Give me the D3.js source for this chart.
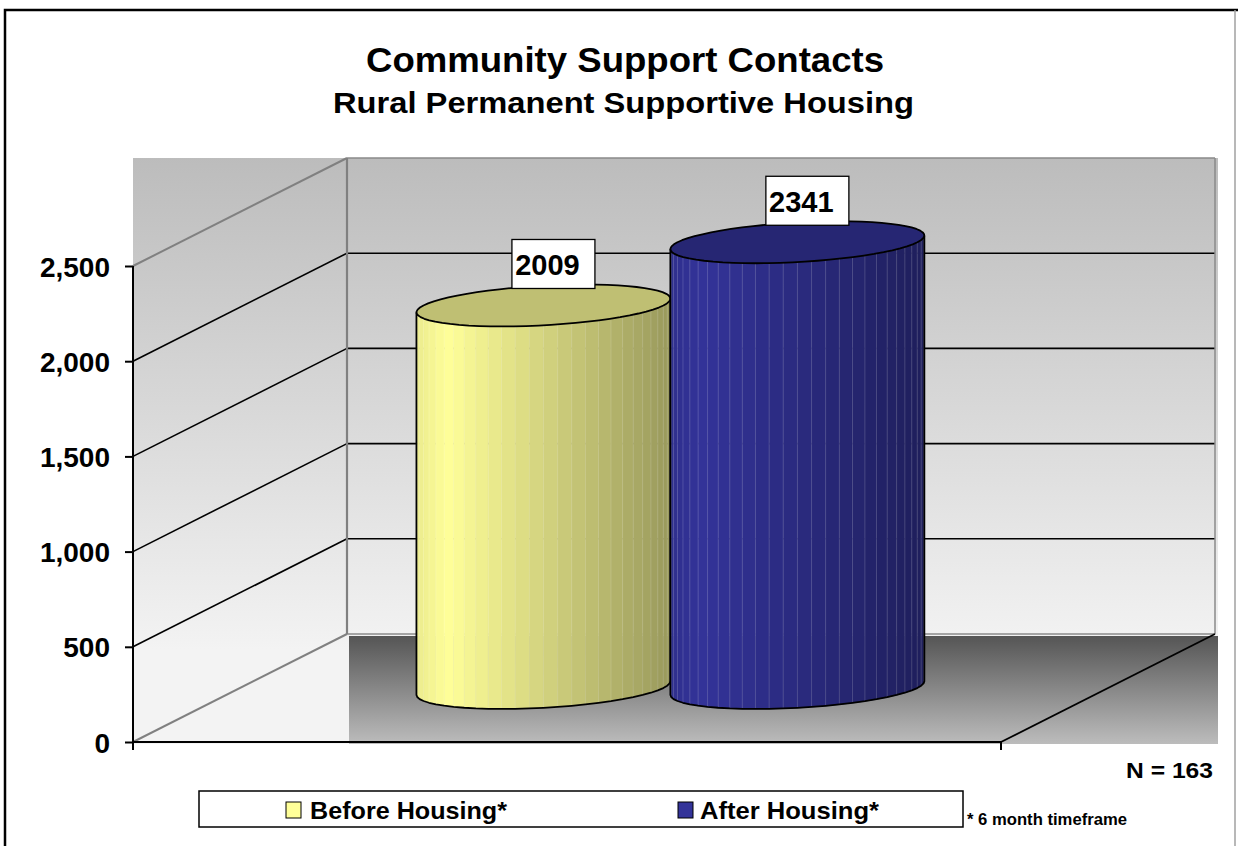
<!DOCTYPE html>
<html><head><meta charset="utf-8">
<script src="https://cdn.jsdelivr.net/npm/d3@7"></script>
<style>
body{margin:0;background:#fff}
svg{display:block}
text{font-family:Arial,"Liberation Sans",sans-serif;font-weight:bold;fill:#000}
</style>
</head><body>
<svg id="chart" width="1238" height="846"></svg>
<script>
// ---------- data ----------
const categories = ["Community Support Contacts"];
const seriesNames = ["Before Housing*", "After Housing*"];
const seriesValues = [2009, 2341];
const seriesColors = ["#ffff99", "#333399"];
const yTicks = [0, 500, 1000, 1500, 2000, 2500];
const titleText = "Community Support Contacts";
const subtitleText = "Rural Permanent Supportive Housing";
const noteN = "N = 163";
const noteFoot = "* 6 month timeframe";

// ---------- layout ----------
const svg = d3.select("#chart");
const defs = svg.append("defs");
const front = {left: 133, right: 1001, bottom: 742, top: 266};
const depth = {dx: 214, dy: -108};
const y = d3.scaleLinear().domain([0, 2500]).range([front.bottom, front.top]);
const xCat = d3.scaleBand().domain(categories).range([front.left, front.right]);
const xSer = d3.scaleBand().domain(seriesNames)
  .range([xCat(categories[0]), xCat(categories[0]) + xCat.bandwidth()])
  .paddingInner(0).paddingOuter(0.709).align(0.49);

// outer frame
svg.append("path").attr("d", "M5,846 L5,10 L1238,10").attr("fill", "none")
  .attr("stroke", "#000").attr("stroke-width", 2.5);
svg.append("line").attr("x1", 1235).attr("x2", 1235).attr("y1", 10).attr("y2", 846)
  .attr("stroke", "#a0a0a0").attr("stroke-width", 1.5);

// titles
svg.append("text").attr("x", 366).attr("y", 72).attr("font-size", 35)
  .attr("textLength", 518).attr("lengthAdjust", "spacingAndGlyphs").text(titleText);
svg.append("text").attr("x", 333).attr("y", 113).attr("font-size", 29)
  .attr("textLength", 581).attr("lengthAdjust", "spacingAndGlyphs").text(subtitleText);

// gradients
const gWall = defs.append("linearGradient").attr("id", "gWall")
  .attr("gradientUnits", "userSpaceOnUse").attr("x1", 0).attr("x2", 0).attr("y1", 157).attr("y2", 650);
gWall.append("stop").attr("offset", 0).attr("stop-color", "#bcbcbc");
gWall.append("stop").attr("offset", 1).attr("stop-color", "#f3f3f3");
const gFloor = defs.append("linearGradient").attr("id", "gFloor")
  .attr("gradientUnits", "userSpaceOnUse").attr("x1", 0).attr("x2", 0).attr("y1", 636).attr("y2", 744);
gFloor.append("stop").attr("offset", 0).attr("stop-color", "#555555");
gFloor.append("stop").attr("offset", 1).attr("stop-color", "#bcbcbc");

const backL = front.left + depth.dx, backR = front.right + depth.dx;
const yTop = y(2500) + depth.dy, yBackBottom = y(0) + depth.dy;

// wall background
svg.append("rect").attr("x", front.left).attr("y", yTop)
  .attr("width", backR + 3 - front.left).attr("height", front.bottom + 2 - yTop)
  .attr("fill", "url(#gWall)");
// floor
svg.append("rect").attr("x", backL + 2).attr("y", yBackBottom + 2)
  .attr("width", backR + 3 - backL - 2).attr("height", front.bottom + 2 - yBackBottom - 2)
  .attr("fill", "url(#gFloor)");

// gridlines (back wall + left wall)
const grid = svg.append("g");
yTicks.forEach(v => {
  const edge = (v === 0 || v === 2500);
  const col = edge ? "#808080" : "#000";
  grid.append("line").attr("x1", front.left).attr("y1", y(v))
    .attr("x2", backL).attr("y2", y(v) + depth.dy)
    .attr("stroke", col).attr("stroke-width", edge ? 2 : 1.6);
  grid.append("line").attr("x1", backL).attr("y1", y(v) + depth.dy)
    .attr("x2", backR).attr("y2", y(v) + depth.dy)
    .attr("stroke", edge ? "#8a8a8a" : "#000").attr("stroke-width", edge ? 1.5 : 1.6);
});
grid.append("line").attr("x1", backL).attr("x2", backL).attr("y1", yTop).attr("y2", yBackBottom)
  .attr("stroke", "#808080").attr("stroke-width", 2.2);
grid.append("line").attr("x1", backR).attr("x2", backR).attr("y1", yTop).attr("y2", yBackBottom)
  .attr("stroke", "#8a8a8a").attr("stroke-width", 1.5);

// floor edges
svg.append("line").attr("x1", front.left).attr("x2", front.right).attr("y1", front.bottom).attr("y2", front.bottom)
  .attr("stroke", "#000").attr("stroke-width", 2);
svg.append("line").attr("x1", front.right).attr("y1", front.bottom)
  .attr("x2", backR).attr("y2", yBackBottom).attr("stroke", "#000").attr("stroke-width", 1.8);
svg.append("line").attr("x1", front.right).attr("x2", front.right).attr("y1", front.bottom).attr("y2", front.bottom + 8)
  .attr("stroke", "#000").attr("stroke-width", 2);

// y axis
const yAxis = d3.axisLeft(y).tickValues(yTicks).tickSize(8).tickPadding(15)
  .tickFormat(d3.format(","));
const ax = svg.append("g").attr("transform", `translate(${front.left},0)`).call(yAxis);
ax.select(".domain").remove();
ax.selectAll(".tick line").attr("stroke", "#000").attr("stroke-width", 2);
ax.selectAll(".tick text").attr("font-size", 28).attr("font-family", "Arial, 'Liberation Sans', sans-serif")
  .attr("font-weight", "bold").attr("fill", "#000").attr("dy", "0.36em");
svg.append("line").attr("x1", front.left).attr("x2", front.left).attr("y1", y(2500)).attr("y2", front.bottom + 8)
  .attr("stroke", "#000").attr("stroke-width", 2);

// ---------- cylinders ----------
const A = 120;                 // horizontal half-radius
const k = 0.194;               // depth half-radius fraction
const Bx = depth.dx * k, By = depth.dy * k;
const t0 = Math.atan2(Bx, A);
function pt(cx, cy, t) { return [cx + A * Math.cos(t) + Bx * Math.sin(t), cy + By * Math.sin(t)]; }
function light(u) {
  return u < 0.12 ? 0.92 + 0.08 * (u / 0.12) : 1 - 0.4 * ((u - 0.12) / 0.88);
}
function shade(c, l) { const r = d3.rgb(c); return d3.rgb(r.r * l, r.g * l, r.b * l).toString(); }

const cyl = svg.append("g");
seriesNames.forEach((name, i) => {
  const v = seriesValues[i];
  const cx = xSer(name) + xSer.bandwidth() / 2 + depth.dx / 2;
  const cTop = y(v) + depth.dy / 2, cBot = y(0) + depth.dy / 2;
  const g = cyl.append("g");
  const N = 28;
  const ts = d3.range(N + 1).map(j => t0 + Math.PI + Math.PI * j / N);
  const ext = Math.sqrt(A * A + Bx * Bx);
  for (let j = 0; j < N; j++) {
    const a = pt(cx, cTop, ts[j]), b = pt(cx, cTop, ts[j + 1]);
    const c = pt(cx, cBot, ts[j + 1]), d = pt(cx, cBot, ts[j]);
    const u = ((a[0] + b[0]) / 2 - (cx - ext)) / (2 * ext);
    const col = shade(seriesColors[i], light(u));
    g.append("path").attr("d", `M${a}L${b}L${c}L${d}Z`).attr("fill", col)
      .attr("stroke", col).attr("stroke-width", 0.6);
  }
  for (let j = 1; j < N; j++) {
    const a = pt(cx, cTop, ts[j]), d = pt(cx, cBot, ts[j]);
    g.append("line").attr("x1", a[0]).attr("y1", a[1]).attr("x2", d[0]).attr("y2", d[1])
      .attr("stroke", "#ffffff").attr("stroke-opacity", 0.18).attr("stroke-width", 0.9);
  }
  // outline of side
  const bottomPts = ts.map(t => pt(cx, cBot, t));
  const pL = pt(cx, cTop, ts[0]), pR = pt(cx, cTop, ts[N]);
  g.append("path").attr("d", `M${pL}L${bottomPts.map(p => p.join(",")).join("L")}L${pR}`)
    .attr("fill", "none").attr("stroke", "#000").attr("stroke-width", 1.8).attr("stroke-linejoin", "round");
  // top
  const topPts = d3.range(64).map(j => pt(cx, cTop, 2 * Math.PI * j / 64));
  g.append("path").attr("d", `M${topPts.map(p => p.join(",")).join("L")}Z`)
    .attr("fill", shade(seriesColors[i], 0.75)).attr("stroke", "#000").attr("stroke-width", 1.8)
    .attr("stroke-linejoin", "round");
});

// data labels
seriesNames.forEach((name, i) => {
  const v = seriesValues[i];
  const cx = xSer(name) + xSer.bandwidth() / 2 + depth.dx / 2;
  const cTop = y(v) + depth.dy / 2;
  svg.append("rect").attr("x", cx + 10 - 41.5).attr("y", cTop - 17 - 49).attr("width", 83).attr("height", 49)
    .attr("fill", "#fff").attr("stroke", "#000").attr("stroke-width", 1.3);
  svg.append("text").attr("x", cx + 4).attr("y", cTop - 30.5).attr("text-anchor", "middle")
    .attr("font-size", 29).text(String(v));
});

// N note
svg.append("text").attr("x", 1126).attr("y", 778).attr("font-size", 22)
  .attr("textLength", 87).attr("lengthAdjust", "spacingAndGlyphs").text(noteN);

// legend
svg.append("rect").attr("x", 199).attr("y", 791).attr("width", 764).attr("height", 36)
  .attr("fill", "#fff").attr("stroke", "#000").attr("stroke-width", 1.5);
const legX = [286, 678], legTX = [310, 700], legTL = [197, 179];
seriesNames.forEach((name, i) => {
  svg.append("rect").attr("x", legX[i]).attr("y", 802).attr("width", 15).attr("height", 16)
    .attr("fill", seriesColors[i]).attr("stroke", "#000").attr("stroke-width", 1);
  svg.append("text").attr("x", legTX[i]).attr("y", 819).attr("font-size", 24.5)
    .attr("textLength", legTL[i]).attr("lengthAdjust", "spacingAndGlyphs").text(name);
});
svg.append("text").attr("x", 967).attr("y", 825).attr("font-size", 16)
  .attr("textLength", 160).attr("lengthAdjust", "spacingAndGlyphs").text(noteFoot);
</script>
</body></html>
